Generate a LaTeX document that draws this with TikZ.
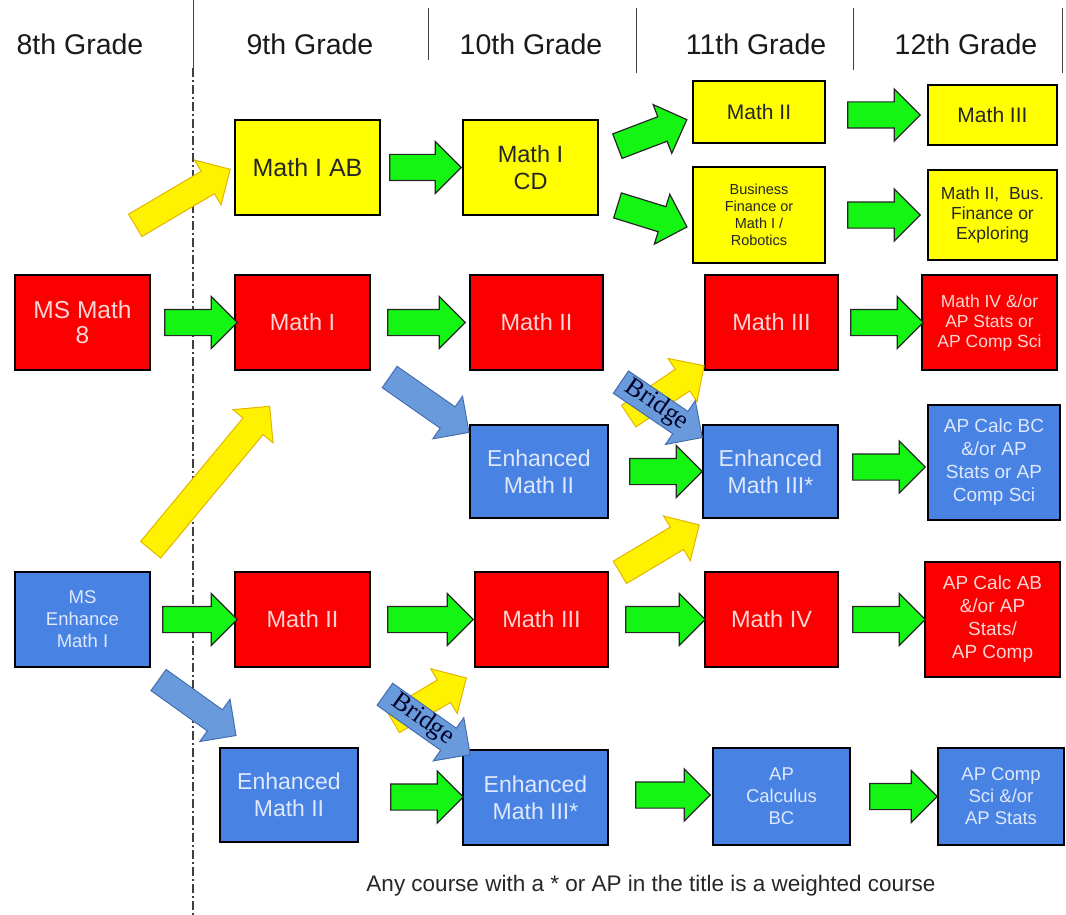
\documentclass[tikz,border=0pt]{standalone}
\usepackage{fontspec}
\setmainfont{Liberation Sans}
\newfontfamily\bridgefont{Liberation Serif}
\usetikzlibrary{shapes.arrows,calc}

\definecolor{boxyellow}{RGB}{255,255,0}
\definecolor{boxred}{RGB}{250,0,0}
\definecolor{boxblue}{RGB}{72,130,226}
\definecolor{redtext}{RGB}{255,212,212}
\definecolor{bluetext}{RGB}{222,232,255}
\definecolor{arrowgreen}{RGB}{20,245,20}
\definecolor{arrowyellow}{RGB}{255,242,0}
\definecolor{yellowline}{RGB}{228,180,0}
\definecolor{arrowblue}{RGB}{105,155,220}
\definecolor{blueline}{RGB}{70,110,175}

\tikzset{
  box/.style={draw=black, line width=2.5pt, align=center, inner sep=1pt},
  ybox/.style={box, fill=boxyellow, text=black!85},
  rbox/.style={box, fill=boxred, text=redtext},
  bbox/.style={box, fill=boxblue, text=bluetext},
  fatarrow/.style={single arrow, inner xsep=0pt, inner ysep=12.5pt, text height=0pt, text depth=0pt,
    single arrow head extend=13pt, single arrow head indent=0pt},
  garrow/.style={fatarrow, draw=black!85, line width=1.2pt, fill=arrowgreen},
  yarrow/.style={fatarrow, draw=yellowline, line width=1pt, fill=arrowyellow},
  barrow/.style={fatarrow, draw=blueline, line width=1pt, fill=arrowblue},
  bridge/.style={barrow, text height=14pt, text depth=4pt, inner ysep=4pt,
    font=\bridgefont\fontsize{26}{26}\selectfont, text=black!85!blue},
  grade/.style={font=\fontsize{28.5}{30}\selectfont, text=black!90},
}

% block arrow from one anchor to another
\newcommand{\blockarrow}[4][garrow]{%
  \path let \p1=#2, \p2=#3, \n1={atan2(\y2-\y1,\x2-\x1)}, \n2={veclen(\x2-\x1,\y2-\y1)}
    in node[#1, rotate=\n1, minimum height=\n2] at ($(\p1)!0.5!(\p2)$) {#4};}

\begin{document}
\begin{tikzpicture}[x=1pt, y=-1pt]
  \useasboundingbox (0,0) rectangle (1066,915);

  % grade headers
  \node[grade] (g8) at (80,44) {8th Grade};
  \node[grade] (g9) at (310,44) {9th Grade};
  \node[grade] (g10) at (531,44) {10th Grade};
  \node[grade] (g11) at (756,44) {11th Grade};
  \node[grade] (g12) at (966,44) {12th Grade};
  \draw[black!75, line width=1pt] (193,0) -- (193,68);
  \draw[black!75, line width=1.2pt, dash pattern=on 9pt off 3pt on 2pt off 3pt] (193,68) -- (193,915);
  \foreach \x/\t/\b in {428/8/60, 636/8/73, 853/8/70, 1062/8/73}
    \draw[black!75, line width=1pt] (\x,\t) -- (\x,\b);

  % yellow track
  \node[ybox, minimum width=145, minimum height=95, font=\fontsize{25}{27}\selectfont] (ab) at (307.5,167.5) {Math I AB};
  \node[ybox, minimum width=135, minimum height=95, font=\fontsize{23.5}{27}\selectfont] (cd) at (530.5,167.5) {Math I\\CD};
  \node[ybox, minimum width=132, minimum height=62, font=\fontsize{21}{24}\selectfont] (m2y) at (759,112) {Math II};
  \node[ybox, minimum width=132, minimum height=96, font=\fontsize{14.5}{17}\selectfont] (bus) at (759,215) {Business\\Finance or\\Math I /\\Robotics};
  \node[ybox, minimum width=129, minimum height=60, font=\fontsize{21}{24}\selectfont] (m3y) at (992.5,115) {Math III};
  \node[ybox, minimum width=129, minimum height=90, font=\fontsize{17.5}{20}\selectfont] (m2bus) at (992.5,215) {Math II,~ Bus.\\Finance or\\Exploring};

  % red track
  \node[rbox, minimum width=135, minimum height=95, font=\fontsize{24.5}{25}\selectfont] (ms8) at (82.5,322.5) {MS Math\\8};
  \node[rbox, minimum width=135, minimum height=95, font=\fontsize{23.5}{27}\selectfont] (m1) at (302.5,322.5) {Math I};
  \node[rbox, minimum width=133, minimum height=95, font=\fontsize{23.5}{27}\selectfont] (m2r) at (536.5,322.5) {Math II};
  \node[rbox, minimum width=133, minimum height=95, font=\fontsize{23.5}{27}\selectfont] (m3r) at (771.5,322.5) {Math III};
  \node[rbox, minimum width=135, minimum height=95, font=\fontsize{17.5}{20}\selectfont] (m4ap) at (989.5,322.5) {Math IV \&/or\\AP Stats or\\AP Comp Sci};

  % enhanced track
  \node[bbox, minimum width=138, minimum height=93, font=\fontsize{23}{27}\selectfont] (em2) at (539,471.5) {Enhanced\\Math II};
  \node[bbox, minimum width=135, minimum height=93, font=\fontsize{23}{27}\selectfont] (em3) at (770.5,471.5) {Enhanced\\Math III*};
  \node[bbox, minimum width=132, minimum height=115, font=\fontsize{19}{23}\selectfont] (apbc) at (994,462.5) {AP Calc BC\\\&/or AP\\Stats or AP\\Comp Sci};

  % from ms enhance
  \node[bbox, minimum width=135, minimum height=95, font=\fontsize{18.5}{22}\selectfont] (mse) at (82.5,619.5) {MS\\Enhance\\Math I};
  \node[rbox, minimum width=135, minimum height=95, font=\fontsize{23.5}{27}\selectfont] (m2b) at (302.5,619.5) {Math II};
  \node[rbox, minimum width=133, minimum height=95, font=\fontsize{23.5}{27}\selectfont] (m3b) at (541.5,619.5) {Math III};
  \node[rbox, minimum width=133, minimum height=95, font=\fontsize{23.5}{27}\selectfont] (m4b) at (771.5,619.5) {Math IV};
  \node[rbox, minimum width=135, minimum height=115, font=\fontsize{19}{23}\selectfont] (apab) at (992.5,619.5) {AP Calc AB\\\&/or AP\\Stats/\\AP Comp};

  \node[bbox, minimum width=138, minimum height=94, font=\fontsize{23}{27}\selectfont] (em2b) at (289,795) {Enhanced\\Math II};
  \node[bbox, minimum width=145, minimum height=95, font=\fontsize{23}{27}\selectfont] (em3b) at (535.5,797.5) {Enhanced\\Math III*};
  \node[bbox, minimum width=137, minimum height=97, font=\fontsize{18.5}{22}\selectfont] (apcalc) at (781.5,796.5) {AP\\Calculus\\BC};
  \node[bbox, minimum width=126, minimum height=97, font=\fontsize{18.5}{22}\selectfont] (apcs) at (1001,796.5) {AP Comp\\Sci \&/or\\AP Stats};

  \node[font=\fontsize{22.5}{24}\selectfont, text=black!85] (note) at (651,886) {Any course with a * or AP in the title is a weighted course};

  % green arrows
  \blockarrow{([xshift=2]ab.east)}{([xshift=-7]cd.west)}{}
  \blockarrow{([shift={(12,-19)}]cd.east)}{([shift={(-11,10)}]m2y.west)}{}
  \blockarrow{([shift={(12,36)}]cd.east)}{([shift={(-11,10)}]bus.west)}{}
  \blockarrow{([shift={(15,3)}]m2y.east)}{([xshift=-13]m3y.west)}{}
  \blockarrow{([xshift=15]bus.east)}{([xshift=-13]m2bus.west)}{}
  \blockarrow{([xshift=7]ms8.east)}{([xshift=-3]m1.west)}{}
  \blockarrow{([xshift=10]m1.east)}{([xshift=-10]m2r.west)}{}
  \blockarrow{([xshift=5]m3r.east)}{([xshift=-4]m4ap.west)}{}
  \blockarrow{([xshift=14]em2.east)}{([xshift=-6]em3.west)}{}
  \blockarrow{([shift={(7,-4.5)}]em3.east)}{([shift={(-8,4.5)}]apbc.west)}{}
  \blockarrow{([xshift=5]mse.east)}{([xshift=-3]m2b.west)}{}
  \blockarrow{([xshift=10]m2b.east)}{([xshift=-7]m3b.west)}{}
  \blockarrow{([xshift=10]m3b.east)}{([xshift=-5]m4b.west)}{}
  \blockarrow{([xshift=7]m4b.east)}{([xshift=-5]apab.west)}{}
  \blockarrow{([shift={(25,2)}]em2b.east)}{([shift={(-5,-0.5)}]em3b.west)}{}
  \blockarrow{([shift={(20,-2.5)}]em3b.east)}{([shift={(-8,-1.5)}]apcalc.west)}{}
  \blockarrow{([xshift=12]apcalc.east)}{([xshift=-6]apcs.west)}{}

  % yellow arrows
  \blockarrow[yarrow]{([shift={(47,-45)}]ms8.north)}{([shift={(-9,5)}]ab.west)}{}
  \blockarrow[yarrow]{([shift={(64,-16)}]mse.north)}{([shift={(-37,40)}]m1.south)}{}
  \blockarrow[yarrow]{([shift={(14,-4)}]em2.north east)}{([shift={(-5,-2)}]m3r.south west)}{}
  \blockarrow[yarrow]{([shift={(5,5)}]m3b.north east)}{([shift={(-8,9)}]em3.south west)}{}
  \blockarrow[yarrow]{([shift={(28,-22)}]em2b.north east)}{([shift={(-13,13)}]m3b.south west)}{}

  % blue arrows
  \blockarrow[barrow]{([shift={(13,2)}]m1.south east)}{([shift={(-5,5)}]em2.north west)}{}
  \blockarrow[barrow]{([shift={(2,8)}]mse.south east)}{([shift={(12,-15)}]em2b.north west)}{}
  \blockarrow[bridge]{([shift={(11,7)}]m2r.south east)}{([shift={(-5,10)}]em3.north west)}{Bridge}
  \blockarrow[bridge]{([shift={(8,22)}]m2b.south east)}{([shift={(3,2)}]em3b.north west)}{Bridge}
\end{tikzpicture}
\end{document}
